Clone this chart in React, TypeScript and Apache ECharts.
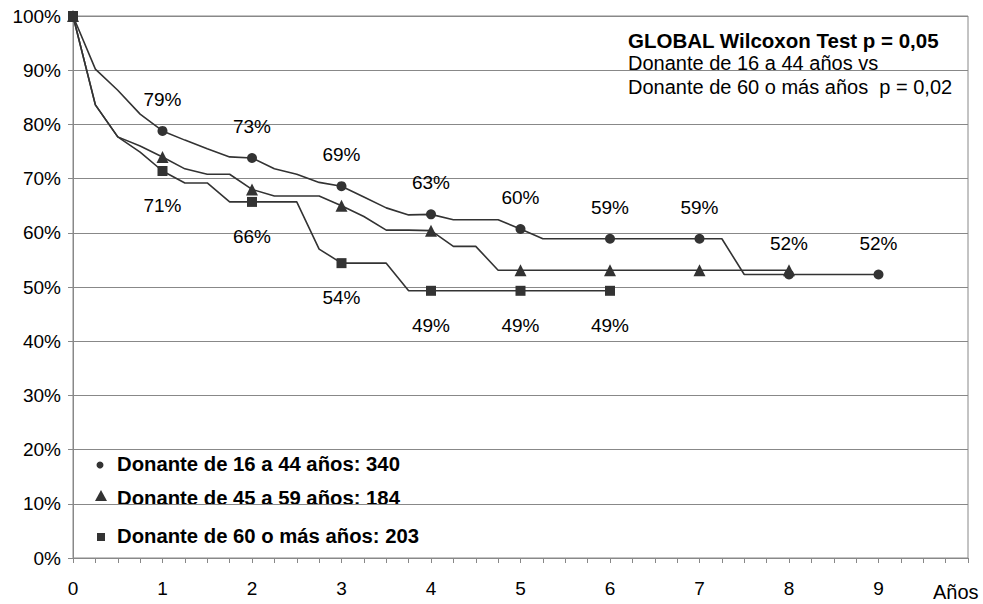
import React, { useEffect, useRef } from "react";
import * as echarts from "echarts";

// time points (years, quarterly)
const quarters = [
  0, 0.25, 0.5, 0.75, 1, 1.25, 1.5, 1.75, 2, 2.25, 2.5, 2.75, 3, 3.25, 3.5, 3.75,
  4, 4.25, 4.5, 4.75, 5, 5.25, 5.5, 5.75, 6, 6.25, 6.5, 6.75, 7, 7.25, 7.5, 7.75,
  8, 8.25, 8.5, 8.75, 9,
];

// survival (%) per quarter
const donor16to44 = [
  100, 90.2, 86.3, 81.9, 78.8, 77.1, 75.5, 74.0, 73.8, 71.8, 70.8, 69.3, 68.6, 66.6, 64.6, 63.3,
  63.4, 62.4, 62.4, 62.4, 60.7, 58.9, 58.9, 58.9, 58.9, 58.9, 58.9, 58.9, 58.9, 58.9, 52.3, 52.3,
  52.3, 52.3, 52.3, 52.3, 52.3,
];
const donor45to59 = [
  100, 83.6, 77.7, 76.0, 74.0, 71.8, 70.8, 70.8, 68.0, 66.8, 66.8, 66.8, 65.0, 63.0, 60.5, 60.5,
  60.4, 57.5, 57.5, 53.1, 53.1, 53.1, 53.1, 53.1, 53.1, 53.1, 53.1, 53.1, 53.1, 53.1, 53.1, 53.1,
  53.1,
];
const donor60plus = [
  100, 83.6, 77.7, 74.9, 71.4, 69.2, 69.2, 65.7, 65.7, 65.7, 65.7, 57.0, 54.4, 54.4, 54.4, 49.3,
  49.3, 49.3, 49.3, 49.3, 49.3, 49.3, 49.3, 49.3, 49.3,
];

// printed labels by year index
const labels16to44 = [null, 79, 73, 69, 63, 60, 59, 59, 52, 52];
const labels60plus = [null, 71, 66, 54, 49, 49, 49];

const legendTexts = [
  "Donante de 16 a 44 años: 340",
  "Donante de 45 a 59 años: 184",
  "Donante de 60 o más años: 203",
];
const testTexts = [
  "GLOBAL Wilcoxon Test p = 0,05",
  "Donante de 16 a 44 años vs",
  "Donante de 60 o más años  p = 0,02",
];
const xAxisTitle = "Años";

const FONT = '"Liberation Sans", Arial, sans-serif';
const LINE = "#333333";
const GRID = "#888888";

function pairs(values: number[]) {
  return values.map((v, i) => [quarters[i], v]);
}

function makeLabel(map: (number | null)[], position: string, distance: number) {
  return {
    show: true,
    position,
    distance,
    fontSize: 19,
    fontFamily: FONT,
    color: "#000",
    formatter: (p: any) => {
      const x = p.value[0];
      if (!Number.isInteger(x)) return "";
      const l = map[x];
      return l == null ? "" : l + "%";
    },
  };
}

export default function App() {
  const ref = useRef<HTMLDivElement>(null);
  useEffect(() => {
    if (!ref.current) return;
    const chart = echarts.init(ref.current, undefined, { renderer: "svg" });
    const sizeAt = (s: number) => (v: any) => (Number.isInteger(v[0]) ? s : 0);
    chart.setOption({
      animation: false,
      backgroundColor: "#fff",
      grid: {
        left: 73,
        right: 15,
        top: 16,
        bottom: 46,
        show: true,
        borderColor: GRID,
        borderWidth: 1,
      },
      xAxis: {
        type: "value",
        min: 0,
        max: 10,
        interval: 1,
        axisLine: { show: true, lineStyle: { color: GRID, width: 1 } },
        axisTick: { show: true, length: 5, lineStyle: { color: GRID } },
        minorTick: { show: true, splitNumber: 4, length: 5, lineStyle: { color: GRID } },
        splitLine: { show: false },
        axisLabel: {
          margin: 21,
          fontSize: 19,
          fontFamily: FONT,
          color: "#000",
          formatter: (v: number) => (v === 10 ? "" : String(v)),
        },
      },
      yAxis: {
        type: "value",
        min: 0,
        max: 100,
        interval: 10,
        axisLine: { show: true, lineStyle: { color: GRID, width: 1 } },
        axisTick: { show: true, length: 5, lineStyle: { color: GRID } },
        splitLine: { show: true, lineStyle: { color: GRID, width: 1 } },
        axisLabel: {
          margin: 12,
          fontSize: 19,
          fontFamily: FONT,
          color: "#000",
          formatter: (v: number) => v + "%",
        },
      },
      series: [
        {
          type: "line",
          name: legendTexts[0],
          data: pairs(donor16to44),
          symbol: "circle",
          symbolSize: sizeAt(10),
          showAllSymbol: true,
          lineStyle: { color: LINE, width: 1.6 },
          itemStyle: { color: LINE },
          label: makeLabel(labels16to44, "top", 17),
          emphasis: { disabled: true },
          z: 3,
        },
        {
          type: "line",
          name: legendTexts[1],
          data: pairs(donor45to59),
          symbol: "triangle",
          symbolSize: sizeAt(12),
          showAllSymbol: true,
          lineStyle: { color: LINE, width: 1.6 },
          itemStyle: { color: LINE },
          emphasis: { disabled: true },
          z: 4,
        },
        {
          type: "line",
          name: legendTexts[2],
          data: pairs(donor60plus),
          symbol: "rect",
          symbolSize: sizeAt(10),
          showAllSymbol: true,
          lineStyle: { color: LINE, width: 1.6 },
          itemStyle: { color: LINE },
          label: makeLabel(labels60plus, "bottom", 20),
          emphasis: { disabled: true },
          z: 5,
        },
      ],
      graphic: [
        {
          type: "text",
          x: 933,
          y: 592,
          style: { text: xAxisTitle, font: `20px ${FONT}`, fill: "#000", verticalAlign: "middle" },
        },
        {
          type: "text",
          x: 628,
          y: 40,
          style: { text: testTexts[0], font: `bold 20.5px ${FONT}`, fill: "#000", verticalAlign: "middle" },
        },
        {
          type: "text",
          x: 628,
          y: 63,
          style: { text: testTexts[1], font: `20px ${FONT}`, fill: "#000", verticalAlign: "middle" },
        },
        {
          type: "text",
          x: 628,
          y: 87,
          style: { text: testTexts[2], font: `20px ${FONT}`, fill: "#000", verticalAlign: "middle" },
        },
        { type: "circle", shape: { cx: 100, cy: 465, r: 3.5 }, style: { fill: LINE } },
        {
          type: "polygon",
          shape: { points: [[101, 490], [107, 501], [95, 501]] },
          style: { fill: LINE },
        },
        { type: "rect", shape: { x: 97, y: 533, width: 8, height: 8 }, style: { fill: LINE } },
        {
          type: "text",
          x: 117,
          y: 464,
          style: { text: legendTexts[0], font: `bold 20.3px ${FONT}`, fill: "#000", verticalAlign: "middle" },
        },
        {
          type: "text",
          x: 117,
          y: 498,
          style: { text: legendTexts[1], font: `bold 20.3px ${FONT}`, fill: "#000", verticalAlign: "middle" },
        },
        {
          type: "text",
          x: 117,
          y: 536,
          style: { text: legendTexts[2], font: `bold 20.3px ${FONT}`, fill: "#000", verticalAlign: "middle" },
        },
      ],
    });
    return () => chart.dispose();
  }, []);
  return (
    <div
      ref={ref}
      style={{ position: "fixed", left: 0, top: 0, width: 983, height: 604, background: "#fff" }}
    />
  );
}
